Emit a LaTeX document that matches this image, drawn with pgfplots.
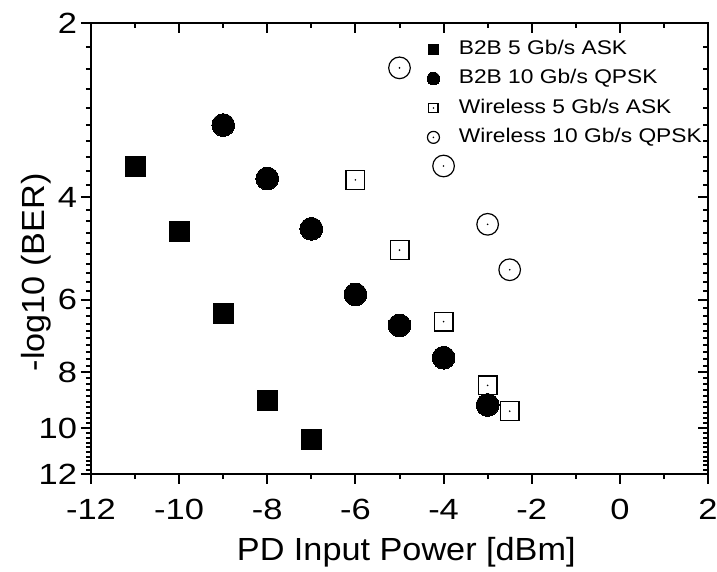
\documentclass[border=0pt]{standalone}
\usepackage{fontspec}
\setmainfont{Liberation Sans}
\newfontfamily\tickfont{Liberation Sans}[FakeStretch=1.18]
\newfontfamily\labfont{Liberation Sans}[FakeStretch=1.07]
\newfontfamily\legfont{Liberation Sans}[FakeStretch=1.15]
\usepackage{pgfplots}
\pgfplotsset{compat=1.18}

\pgfdeclareplotmark{dsquare}{%
  \pgfpathrectangle{\pgfqpoint{-\pgfplotmarksize}{-\pgfplotmarksize}}{\pgfqpoint{2\pgfplotmarksize}{2\pgfplotmarksize}}%
  \pgfusepathqstroke
  \pgfpathcircle{\pgfpointorigin}{0.45pt}\pgfusepathqfill}
\pgfdeclareplotmark{dcircle}{%
  \pgfpathcircle{\pgfpointorigin}{\pgfplotmarksize}\pgfusepathqstroke
  \pgfpathcircle{\pgfpointorigin}{0.45pt}\pgfusepathqfill}

\begin{document}
\begin{tikzpicture}
\begin{axis}[
  scale only axis,
  width=308.5pt, height=225.5pt,
  xmin=-12, xmax=2, ymin=2, ymax=12,
  ymode=log, y dir=reverse,
  xtick={-12,-10,-8,-6,-4,-2,0,2},
  minor xtick={-11,-9,-7,-5,-3,-1,1},
  ytick={2,4,6,8,10,12},
  minor ytick={2.2,2.4,2.6,2.8,3,3.2,3.4,3.6,3.8,4.2,4.4,4.6,4.8,5,5.2,5.4,5.6,5.8,6.2,6.4,6.6,6.8,7,7.2,7.4,7.6,7.8,8.2,8.4,8.6,8.8,9,9.2,9.4,9.6,9.8,10.2,10.4,10.6,10.8,11,11.2,11.4,11.6,11.8},
  axis line style={line width=1.4pt},
  major tick length=5pt, minor tick length=2.6pt,
  every tick/.style={black, line width=1pt},
  tick align=outside,
  xtick pos=left, ytick pos=left,
  yticklabels={2,4,6,8,10,12},
  ticklabel style={font=\tickfont\fontsize{14.6}{18}\selectfont},
  xticklabel style={yshift=-4pt},
  yticklabel style={xshift=1.5pt},
  xlabel={PD Input Power [dBm]},
  ylabel={-log10 (BER)},
  label style={font=\labfont\fontsize{16}{19}\selectfont},
  xlabel style={at={(axis description cs:0.511,-0.191)}, anchor=base},
  ylabel style={at={(axis description cs:-0.0746,0.447)}, anchor=base},
  legend style={draw=none, fill=none, at={(axis description cs:0.544,0.9677)}, anchor=north west,
    inner sep=0pt, row sep=3.5pt, column sep=8.5pt,
    font=\legfont\fontsize{9.9}{12}\selectfont,
    nodes={inner sep=1pt, text height=7.2pt, text depth=2pt}},
  legend cell align=left,
  /pgf/number format/assume math mode=true,
]
\addplot[only marks, mark=square*, mark size=5pt, mark options={draw=black, fill=black, line width=0pt},
  legend image post style={mark size=2.5pt}]
  coordinates {(-11,3.53) (-10,4.58) (-9,6.33) (-8,8.96) (-7,10.45)};
\addlegendentry{B2B 5 Gb/s ASK}
\addplot[only marks, mark=*, mark size=5.7pt, mark options={draw=black, fill=black, line width=0pt},
  legend image post style={mark size=3.2pt}]
  coordinates {(-9,3.00) (-8,3.71) (-7,4.53) (-6,5.88) (-5,6.65) (-4,7.56) (-3,9.12)};
\addlegendentry{B2B 10 Gb/s QPSK}
\addplot[only marks, mark=dsquare, mark size=4.7pt, mark options={draw=black, fill=black, line width=0.6pt},
  legend image post style={mark size=2.3pt}]
  coordinates {(-6,3.73) (-5,4.93) (-4,6.55) (-3,8.44) (-2.5,9.35)};
\addlegendentry{Wireless 5 Gb/s ASK}
\addplot[only marks, mark=dcircle, mark size=5.4pt, mark options={draw=black, fill=black, line width=0.6pt},
  legend image post style={mark size=3pt}]
  coordinates {(-5,2.39) (-4,3.53) (-3,4.45) (-2.5,5.33)};
\addlegendentry{Wireless 10 Gb/s QPSK}
\end{axis}
\begin{axis}[
  scale only axis,
  width=308.5pt, height=225.5pt,
  xmin=-12, xmax=2, ymin=2, ymax=12,
  ymode=log, y dir=reverse,
  xtick={-12,-10,-8,-6,-4,-2,0,2},
  minor xtick={-11,-9,-7,-5,-3,-1,1},
  ytick={2,4,6,8,10,12},
  minor ytick={2.2,2.4,2.6,2.8,3,3.2,3.4,3.6,3.8,4.2,4.4,4.6,4.8,5,5.2,5.4,5.6,5.8,6.2,6.4,6.6,6.8,7,7.2,7.4,7.6,7.8,8.2,8.4,8.6,8.8,9,9.2,9.4,9.6,9.8,10.2,10.4,10.6,10.8,11,11.2,11.4,11.6,11.8},
  axis line style={line width=1.4pt},
  major tick length=5pt, minor tick length=2.6pt,
  every tick/.style={black, line width=1pt},
  tick align=inside,
  xtick pos=right, ytick pos=right,
  xticklabels={}, yticklabels={},
]
\end{axis}
\pgfresetboundingbox
\path[use as bounding box] (-45.5pt,-49pt) rectangle (313pt,237pt);
\end{tikzpicture}
\end{document}
